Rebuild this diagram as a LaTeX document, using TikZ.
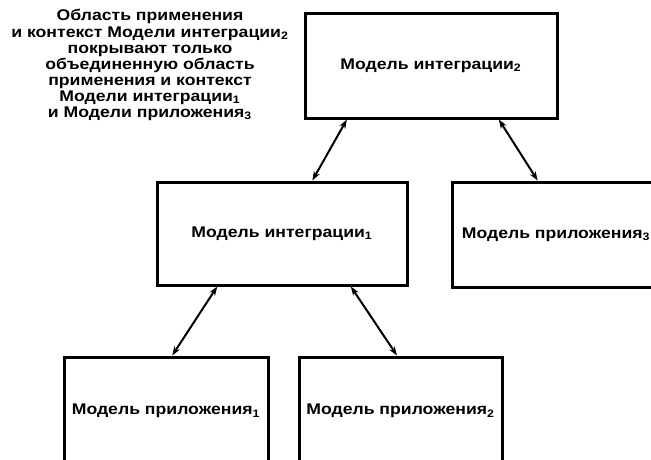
\documentclass[tikz,border=0pt]{standalone}
\usepackage{fontspec}
\setmainfont[FakeStretch=1.14]{Liberation Sans}
\usetikzlibrary{arrows.meta,calc}
\newlength{\du}
\setlength{\du}{0.025cm}

\begin{document}
\begin{tikzpicture}
\tikzstyle{every node}=[font=\bfseries\fontsize{11}{11.4}\selectfont]
\tikzstyle{modelbox}=[draw, line width=3\du, inner sep=0pt]
\tikzstyle{link}=[line width=2\du, {Stealth[length=6.5pt,width=4.6pt]}-{Stealth[length=6.5pt,width=4.6pt]}]
\pgftransformxscale{1.000000}
\pgftransformyscale{-1.000000}
\useasboundingbox (0\du,0\du) rectangle (651\du,460\du);
\clip (0\du,0\du) rectangle (651\du,460\du);
% note on the left
\node[align=center] (scopenote) at (150\du,65\du){Область применения\\и контекст Модели интеграции\textsubscript{2}\\покрывают только\\объединенную область\\применения и контекст\\Модели интеграции\textsubscript{1}\\и Модели приложения\textsubscript{3}};
% models
\node[modelbox, minimum width=252\du, minimum height=105\du] (integr2) at (431\du,65.5\du){Модель интеграции\textsubscript{2}};
\node[modelbox, minimum width=250\du, minimum height=103\du] (integr1) at (282\du,233.5\du){Модель интеграции\textsubscript{1}};
\node[modelbox, minimum width=208\du, minimum height=105\du] (app3) at (556\du,234.5\du){Модель приложения\textsubscript{3}};
\node[modelbox, minimum width=204\du, minimum height=108\du] (app1) at (166\du,411\du){Модель приложения\textsubscript{1}};
\node[modelbox, minimum width=203\du, minimum height=108\du] (app2) at (400.5\du,411\du){Модель приложения\textsubscript{2}};
% links
\draw[link] ($(integr2.south west)!0.17!(integr2.south east)$)--($(integr1.north west)!0.62!(integr1.north east)$);
\draw[link] ($(integr2.south west)!0.766!(integr2.south east)$)--($(app3.north west)!0.413!(app3.north east)$);
\draw[link] ($(integr1.south west)!0.244!(integr1.south east)$)--($(app1.north west)!0.53!(app1.north east)$);
\draw[link] ($(integr1.south west)!0.772!(integr1.south east)$)--($(app2.north west)!0.483!(app2.north east)$);
\end{tikzpicture}
\end{document}
